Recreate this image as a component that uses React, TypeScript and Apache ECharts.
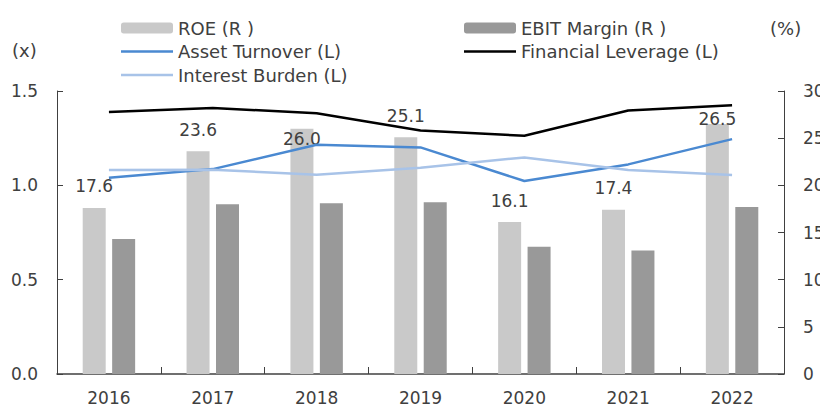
import React, { useEffect, useRef } from "react";
import * as echarts from "echarts";

const years = ["2016", "2017", "2018", "2019", "2020", "2021", "2022"];
const roe = [17.6, 23.6, 26.0, 25.1, 16.1, 17.4, 26.5];
const ebitMargin = [14.3, 18.0, 18.1, 18.2, 13.5, 13.1, 17.7];
const assetTurnover = [1.04, 1.086, 1.215, 1.201, 1.023, 1.111, 1.245];
const financialLeverage = [1.389, 1.41, 1.382, 1.291, 1.263, 1.397, 1.424];
const interestBurden = [1.081, 1.083, 1.056, 1.093, 1.148, 1.081, 1.055];
const leftTicks = [0, 0.5, 1.0, 1.5];
const rightTicks = [0, 5, 10, 15, 20, 25, 30];

const FONT = "DejaVu Sans";
const TXT = "#404040";
const LINE_ICON = "path://M0,0H52V2.5H0Z";

export default function App() {
  const ref = useRef<HTMLDivElement>(null);
  useEffect(() => {
    document.body.style.margin = "0";
    document.documentElement.style.overflow = "hidden";
    const chart = echarts.init(ref.current!, null, { renderer: "svg" });
    const labelShift: Record<number, number> = { 2: 32, 6: 16 };
    const axisLine = { show: true, lineStyle: { color: TXT, width: 1 } };
    const tick = { show: true, inside: true, length: 6, lineStyle: { color: TXT } };
    const axisLabel = { color: TXT, fontSize: 17, fontFamily: FONT, margin: 19 };
    const legendText = { color: TXT, fontSize: 18, fontFamily: FONT };
    const legendBase = {
      orient: "vertical",
      top: 19,
      padding: 0,
      itemWidth: 52,
      itemHeight: 11,
      itemGap: 5.5,
      textStyle: legendText,
    };
    chart.setOption({
      animation: false,
      textStyle: { fontFamily: FONT },
      grid: { left: 57, right: 36, top: 91, bottom: 34, containLabel: false, outerBoundsMode: "none" },
      legend: [
        {
          ...legendBase,
          left: 121,
          data: [
            { name: "ROE (R )" },
            { name: "Asset Turnover (L)", icon: LINE_ICON },
            { name: "Interest Burden (L)", icon: LINE_ICON },
          ],
        },
        {
          ...legendBase,
          left: 464,
          data: [
            { name: "EBIT Margin (R )" },
            { name: "Financial Leverage (L)", icon: LINE_ICON },
          ],
        },
      ],
      graphic: [
        { type: "text", left: 12, top: 41, style: { text: "(x)", fill: TXT, font: `18px '${FONT}'` } },
        { type: "text", left: 770, top: 19, style: { text: "(%)", fill: TXT, font: `18px '${FONT}'` } },
      ],
      xAxis: {
        type: "category",
        data: years,
        boundaryGap: true,
        axisLine: { show: true, lineStyle: { color: TXT, width: 1.5 } },
        axisTick: { show: true, inside: true, length: 7, lineStyle: { color: TXT } },
        axisLabel: { ...axisLabel, margin: 15 },
      },
      yAxis: [
        {
          type: "value",
          min: leftTicks[0],
          max: leftTicks[leftTicks.length - 1],
          interval: 0.5,
          position: "left",
          axisLine,
          axisTick: tick,
          splitLine: { show: false },
          axisLabel: { ...axisLabel, formatter: (v: number) => v.toFixed(1) },
        },
        {
          type: "value",
          min: rightTicks[0],
          max: rightTicks[rightTicks.length - 1],
          interval: 5,
          position: "right",
          axisLine,
          axisTick: tick,
          splitLine: { show: false },
          axisLabel: { ...axisLabel },
        },
      ],
      series: [
        {
          name: "ROE (R )",
          type: "bar",
          yAxisIndex: 1,
          barWidth: 23,
          barGap: "28%",
          itemStyle: { color: "#C9C9C9" },
          data: roe.map((v, i) => ({
            value: v,
            label: labelShift[i] ? { offset: [0, labelShift[i]] } : undefined,
          })),
          label: {
            show: true,
            position: "top",
            distance: 13,
            color: TXT,
            fontSize: 17,
            fontFamily: FONT,
            formatter: (p: any) => Number(p.value).toFixed(1),
          },
          z: 2,
        },
        {
          name: "EBIT Margin (R )",
          type: "bar",
          yAxisIndex: 1,
          barWidth: 23,
          itemStyle: { color: "#999999" },
          data: ebitMargin,
          z: 2,
        },
        {
          name: "Asset Turnover (L)",
          type: "line",
          yAxisIndex: 0,
          symbol: "none",
          lineStyle: { color: "#4A89D1", width: 2.5 },
          itemStyle: { color: "#4A89D1" },
          data: assetTurnover,
          z: 3,
        },
        {
          name: "Financial Leverage (L)",
          type: "line",
          yAxisIndex: 0,
          symbol: "none",
          lineStyle: { color: "#000000", width: 2.5 },
          itemStyle: { color: "#000000" },
          data: financialLeverage,
          z: 3,
        },
        {
          name: "Interest Burden (L)",
          type: "line",
          yAxisIndex: 0,
          symbol: "none",
          lineStyle: { color: "#A8C3E8", width: 2.5 },
          itemStyle: { color: "#A8C3E8" },
          data: interestBurden,
          z: 3,
        },
      ],
    });
    return () => chart.dispose();
  }, []);
  return <div ref={ref} style={{ width: 820, height: 408 }} />;
}
